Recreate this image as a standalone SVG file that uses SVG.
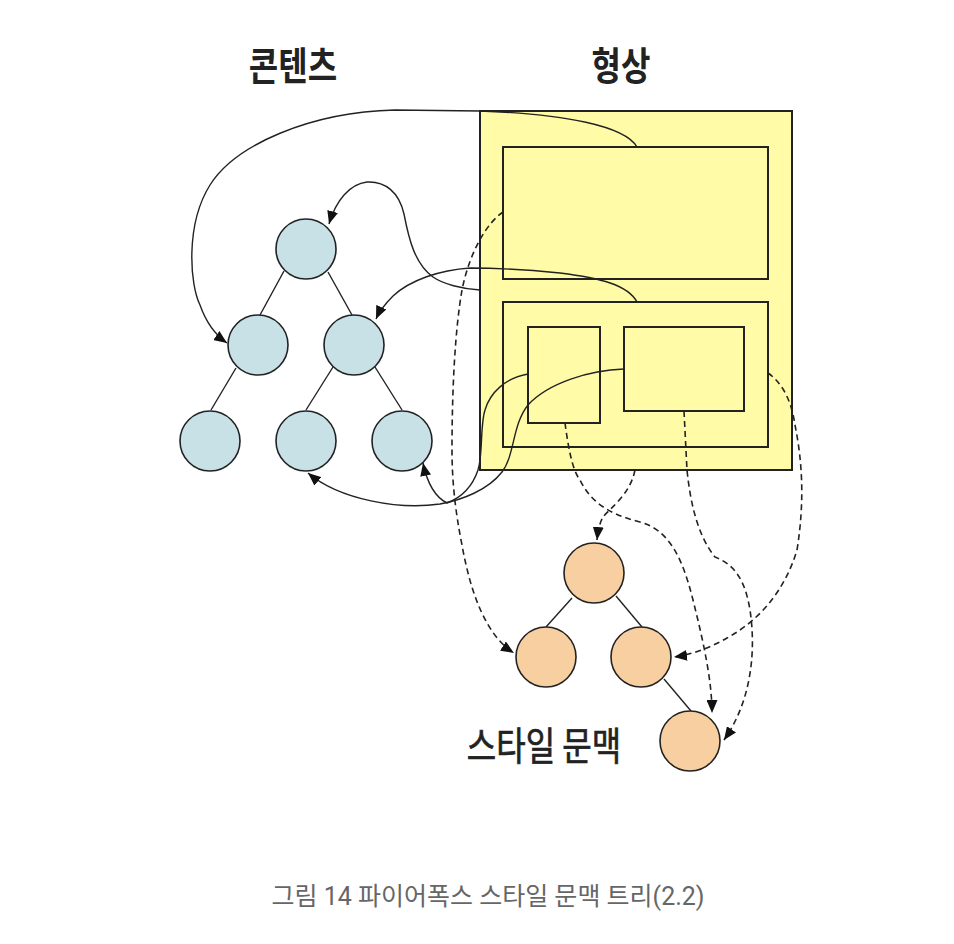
<svg xmlns="http://www.w3.org/2000/svg" width="954" height="944" viewBox="0 0 954 944">
<defs>
<marker id="arr" markerUnits="userSpaceOnUse" markerWidth="13" markerHeight="11" refX="13" refY="5.5" orient="auto">
<path d="M0,0 L13,5.5 L0,11 z" fill="#111"/>
</marker>
<style>
.lbl{font-family:"Noto Sans CJK KR","Noto Sans",sans-serif;font-weight:bold;font-size:32px;fill:#222}
.cap{font-family:Roboto,"Noto Sans CJK KR",sans-serif;font-size:25px;fill:#666}
.frame{fill:none;stroke:#222;stroke-width:2}
.blue{fill:#c8e1e6;stroke:#222;stroke-width:1.6}
.orange{fill:#f8cfa0;stroke:#222;stroke-width:1.6}
.edge{stroke:#222;stroke-width:1.4}
.solid{fill:none;stroke:#222;stroke-width:1.4;marker-end:url(#arr)}
.dash{fill:none;stroke:#222;stroke-width:1.6;stroke-dasharray:6,4;marker-end:url(#arr)}
</style>
</defs>
<rect width="954" height="944" fill="#fff"/>

<g id="labels">
<text class="lbl" text-anchor="middle" transform="translate(293,80) scale(1,1.2)">콘텐츠</text>
<text class="lbl" text-anchor="middle" transform="translate(621,80) scale(1,1.2)">형상</text>
<text class="lbl" text-anchor="middle" style="font-weight:normal;stroke:#222;stroke-width:0.6" transform="translate(544,760) scale(1,1.2)">스타일 문맥</text>
<text class="cap" text-anchor="middle" x="488" y="905">그림 14 파이어폭스 스타일 문맥 트리(2.2)</text>
</g>

<g id="frames">
<rect id="frame-viewport" x="480" y="111" width="312" height="359" fill="#fffba6" stroke="#222" stroke-width="2"/>
<rect id="frame-top" class="frame" x="503" y="147" width="265" height="132"/>
<rect id="frame-bottom" class="frame" x="503" y="302" width="265" height="145"/>
<rect id="frame-small-left" class="frame" x="528" y="327" width="72" height="96"/>
<rect id="frame-small-right" class="frame" x="624" y="327" width="120" height="84"/>
</g>

<g id="tree-edges">
<line class="edge" x1="284" y1="271" x2="260" y2="315"/>
<line class="edge" x1="328" y1="272" x2="352" y2="315"/>
<line class="edge" x1="236" y1="368" x2="211" y2="410"/>
<line class="edge" x1="333" y1="367" x2="306" y2="410"/>
<line class="edge" x1="375" y1="367" x2="402" y2="410"/>
<line class="edge" x1="572" y1="598" x2="546" y2="627"/>
<line class="edge" x1="616" y1="596" x2="642" y2="627"/>
<line class="edge" x1="664" y1="679" x2="691" y2="711"/>
</g>

<g id="content-nodes">
<circle id="c-root" class="blue" cx="306" cy="249" r="30"/>
<circle id="c-l" class="blue" cx="258" cy="345" r="30"/>
<circle id="c-r" class="blue" cx="354" cy="345" r="30"/>
<circle id="c-ll" class="blue" cx="210" cy="441" r="30"/>
<circle id="c-rl" class="blue" cx="306" cy="441" r="30"/>
<circle id="c-rr" class="blue" cx="402" cy="441" r="30"/>
</g>

<g id="style-nodes">
<circle id="s-root" class="orange" cx="594" cy="573" r="30"/>
<circle id="s-l" class="orange" cx="546" cy="657" r="30"/>
<circle id="s-r" class="orange" cx="641" cy="657" r="30"/>
<circle id="s-rr" class="orange" cx="690" cy="741" r="30"/>
</g>

<g id="connectors">
<path class="solid" d="M637,147 C625,126 565,114 480,111 L395,110 C310,112 235,145 210,185 C185,225 190,285 200,305 C206,322 214,334 227,343"/>
<path class="solid" d="M480,290 C462,289 443,284 433,277 C415,264 409,240 404,214 C399,192 385,181 367,182 C350,184 336,200 329,224"/>
<path class="solid" d="M637,302 C628,285 600,278 560,273 C520,269 500,268 470,268 C440,270 410,280 393,296 C386,303 380,310 376,319"/>
<path class="solid" d="M528,374 C505,378 490,393 485,410 C480,425 483,455 478,470 C472,488 460,498 447,503 C435,497 427,482 423,463"/>
<path class="solid" d="M624,369 C590,370 548,383 528,405 C512,425 515,455 502,472 C488,490 462,500 440,504 C400,510 340,500 308,473"/>
<path class="dash" d="M503,212 C488,222 470,250 462,290 C455,330 452,390 452,450 C452,480 455,510 462,545 C470,590 485,635 514,653"/>
<path class="dash" d="M565,423 C568,445 572,470 580,480 C590,500 605,513 640,522 C670,530 683,560 693,600 C703,640 712,680 712,713"/>
<path class="dash" d="M635,470 C630,495 610,508 603,517 C600,522 598,530 597,540"/>
<path class="dash" d="M684,411 L687,470 C690,500 697,535 715,557 C735,565 745,580 750,610 C756,650 752,700 724,740"/>
<path class="dash" d="M768,373 C785,385 792,405 795,425 C802,460 805,500 797,550 C785,590 760,620 727,638 C710,648 690,655 674,657"/>
</g>
</svg>
